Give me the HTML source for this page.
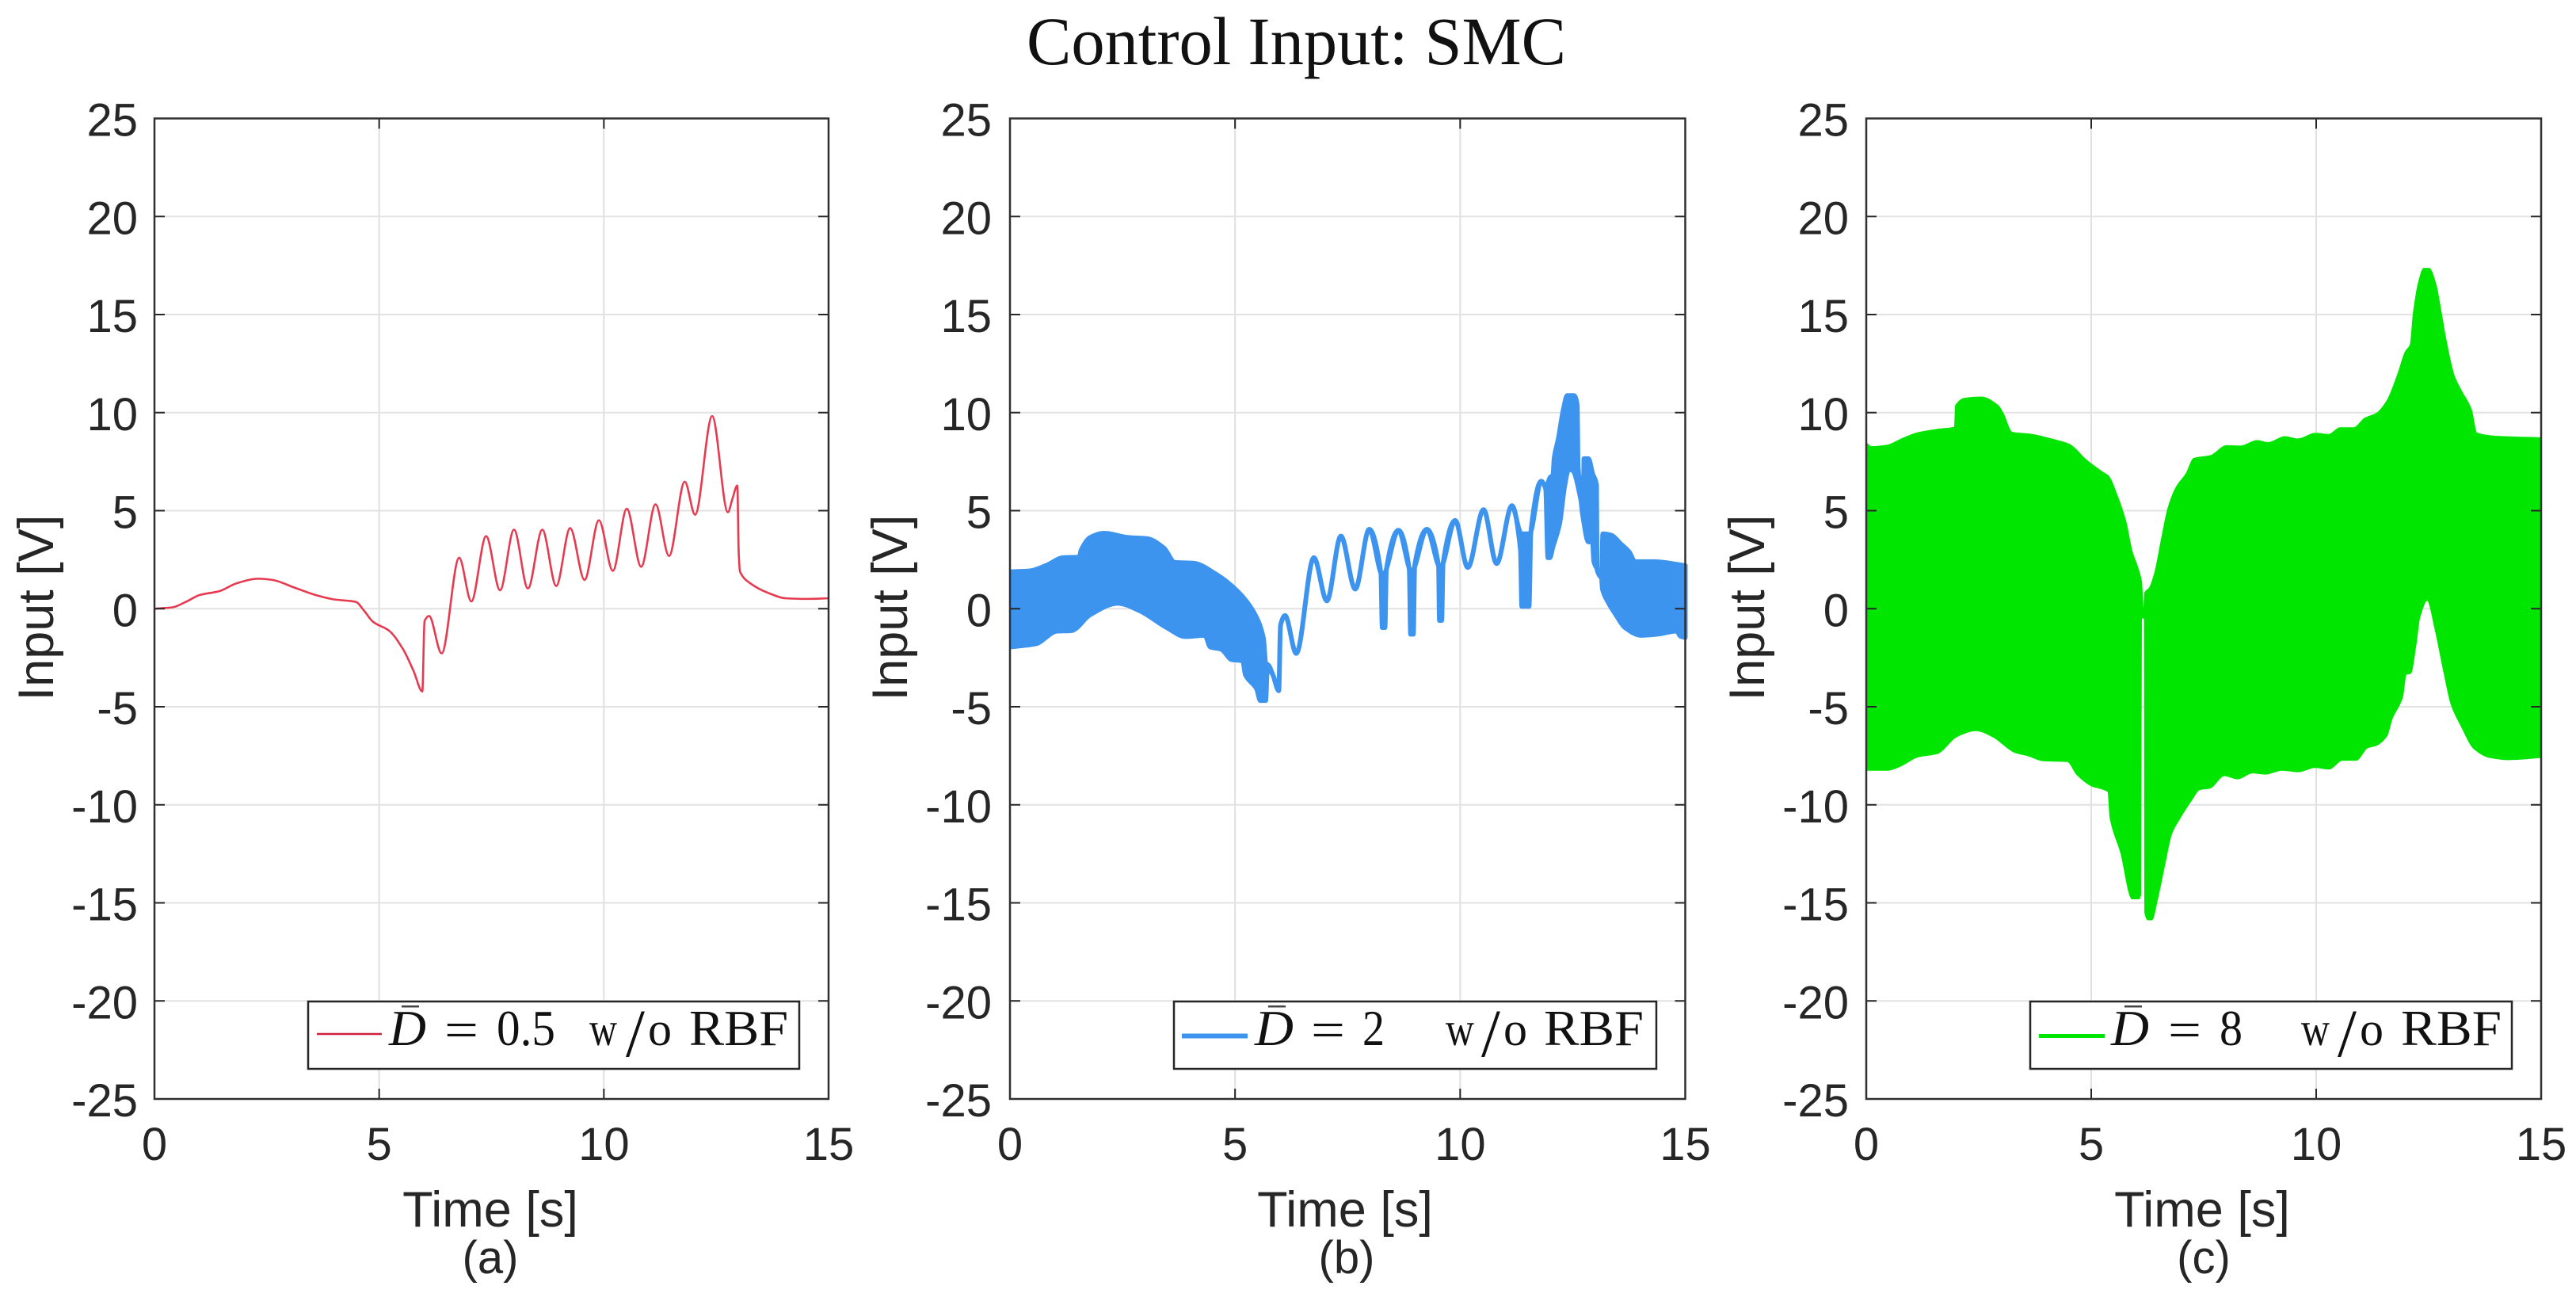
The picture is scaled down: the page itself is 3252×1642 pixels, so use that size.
<!DOCTYPE html>
<html>
<head>
<meta charset="utf-8">
<title>Control Input: SMC</title>
<style>
html,body{margin:0;padding:0;background:#fff;width:3252px;height:1642px;overflow:hidden}
svg{display:block}
.s{font-family:"Liberation Sans",sans-serif;fill:#262626}
.r{font-family:"Liberation Serif",serif;fill:#111}
</style>
</head>
<body>
<svg id="fig" xmlns="http://www.w3.org/2000/svg" width="3252" height="1642" viewBox="0 0 3252 1642">
<rect x="0" y="0" width="3252" height="1642" fill="#fff"/>
<text class="r" x="1296" y="81" font-size="86" textLength="681" lengthAdjust="spacingAndGlyphs">Control Input: SMC</text>
<g id="panel-a"></g>
<g id="panel-b"></g>
<g id="panel-c"></g>

<g class="s">
<text class="s" font-size="63" text-anchor="middle" transform="translate(67 767) rotate(-90)">Input [V]</text>
<text class="s" font-size="63" text-anchor="middle" transform="translate(1145 767) rotate(-90)">Input [V]</text>
<text class="s" font-size="63" text-anchor="middle" transform="translate(2227 767) rotate(-90)">Input [V]</text>
<text class="s" font-size="63" text-anchor="middle" x="619" y="1548">Time [s]</text>
<text class="s" font-size="63" text-anchor="middle" x="1698" y="1548">Time [s]</text>
<text class="s" font-size="63" text-anchor="middle" x="2780" y="1548">Time [s]</text>
<text class="s" font-size="58" text-anchor="middle" x="619" y="1607">(a)</text>
<text class="s" font-size="58" text-anchor="middle" x="1700" y="1607">(b)</text>
<text class="s" font-size="58" text-anchor="middle" x="2782" y="1607">(c)</text>
</g>

<g>
<rect x="389" y="1264" width="620" height="85" fill="#fff" stroke="#262626" stroke-width="2.5"/>
<line x1="400" x2="482" y1="1305" y2="1305" stroke="#cc1f3a" stroke-width="2.5"/>
<rect x="507" y="1269" width="22" height="2.5" fill="#444"/>
<text class="r" font-style="italic" font-size="64" x="491" y="1319" textLength="47" lengthAdjust="spacingAndGlyphs">D</text>
<text class="r" font-size="64" x="561" y="1321" textLength="43" lengthAdjust="spacingAndGlyphs">=</text>
<text class="r" font-size="64" x="627" y="1319" textLength="74" lengthAdjust="spacingAndGlyphs">0.5</text>
<text class="r" font-size="60" y="1319"><tspan x="744" textLength="35" lengthAdjust="spacingAndGlyphs">w</tspan><tspan x="790" font-size="86" dy="14">/</tspan><tspan x="818" dy="-14">o</tspan></text>
<text class="r" font-size="64" x="870" y="1319" textLength="125" lengthAdjust="spacingAndGlyphs">RBF</text>
</g>

<g>
<rect x="1482" y="1264" width="609" height="85" fill="#fff" stroke="#262626" stroke-width="2.5"/>
<line x1="1492" x2="1575" y1="1307.5" y2="1307.5" stroke="#3d94ef" stroke-width="6"/>
<rect x="1601" y="1269" width="22" height="2.5" fill="#444"/>
<text class="r" font-style="italic" font-size="64" x="1584" y="1319" textLength="49" lengthAdjust="spacingAndGlyphs">D</text>
<text class="r" font-size="64" x="1655" y="1321" textLength="43" lengthAdjust="spacingAndGlyphs">=</text>
<text class="r" font-size="64" x="1720" y="1319" textLength="28" lengthAdjust="spacingAndGlyphs">2</text>
<text class="r" font-size="60" y="1319"><tspan x="1825" textLength="36" lengthAdjust="spacingAndGlyphs">w</tspan><tspan x="1870" font-size="86" dy="14">/</tspan><tspan x="1898" dy="-14">o</tspan></text>
<text class="r" font-size="64" x="1949" y="1319" textLength="126" lengthAdjust="spacingAndGlyphs">RBF</text>
</g>

<g>
<rect x="2563" y="1264" width="608" height="85" fill="#fff" stroke="#262626" stroke-width="2.5"/>
<line x1="2574" x2="2657" y1="1307.5" y2="1307.5" stroke="#00e600" stroke-width="5"/>
<rect x="2682" y="1269" width="22" height="2.5" fill="#444"/>
<text class="r" font-style="italic" font-size="64" x="2665" y="1319" textLength="48" lengthAdjust="spacingAndGlyphs">D</text>
<text class="r" font-size="64" x="2737" y="1321" textLength="42" lengthAdjust="spacingAndGlyphs">=</text>
<text class="r" font-size="64" x="2802" y="1319" textLength="29" lengthAdjust="spacingAndGlyphs">8</text>
<text class="r" font-size="60" y="1319"><tspan x="2905" textLength="36" lengthAdjust="spacingAndGlyphs">w</tspan><tspan x="2951" font-size="86" dy="14">/</tspan><tspan x="2979" dy="-14">o</tspan></text>
<text class="r" font-size="64" x="3031" y="1319" textLength="127" lengthAdjust="spacingAndGlyphs">RBF</text>
</g>
</svg>

<script>
// ---- chart data ----
const xTickLabels = [0, 5, 10, 15];
const yTickLabels = [25, 20, 15, 10, 5, 0, -5, -10, -15, -20, -25];

// Panel (a): single trace
const aTime = [0,.4,.7,1.01,1.45,1.82,2.31,2.62,3.12,3.61,3.98,4.48,4.66,4.87,5.22,5.53,5.77,5.96,6.01,6.11,6.39,6.78,7.05,7.38,7.69,8.0,8.31,8.63,8.94,9.25,9.57,9.89,10.2,10.51,10.83,11.15,11.45,11.8,12.03,12.41,12.76,12.86,12.97,13.0,13.03,13.26,13.63,14.06,14.49,15];
const aInput = [0,.07,.35,.7,.9,1.29,1.53,1.47,1.07,.68,.48,.35,-.09,-.68,-1.12,-2.06,-3.2,-4.22,-.63,-.37,-2.28,2.6,.37,3.7,.94,4.03,1.03,4.03,1.16,4.11,1.47,4.51,1.93,5.1,2.14,5.32,2.69,6.48,4.79,9.82,4.92,5.6,6.28,2.87,1.88,1.29,.83,.53,.5,.53];

// Panel (b): envelope of the chattering signal
const bUpperTime = [0,.45,.81,1.18,1.54,1.58,1.78,2.08,2.63,3.05,3.42,3.66,4.08,4.57,5.05,5.42,5.63,5.68,5.84,5.97,6.01,6.11,6.36,6.75,7.04,7.35,7.67,7.98,8.28,8.63,8.92,9.26,9.56,9.89,10.17,10.52,10.81,11.15,11.36,11.54,11.8,11.91,12.0,12.06,12.09,12.18,12.29,12.38,12.53,12.6,12.62,12.68,12.74,12.75,12.85,12.94,13.03,13.04,13.14,13.17,13.35,13.58,13.76,13.88,14.29,15];
const bUpper = [1.88,1.93,2.21,2.6,2.63,2.98,3.63,3.85,3.63,3.57,3.09,2.36,2.32,1.77,.9,-.2,-1.5,-2.8,-3.37,-4.18,-.85,-.35,-2.28,2.6,.4,3.7,1.0,4.05,1.7,4.0,1.9,4.05,2.1,4.5,2.1,5.05,2.3,5.25,3.82,3.82,6.5,6.24,6.7,6.8,7.7,8.66,10.13,10.87,10.87,10.4,7.18,6.24,6.2,7.65,7.65,6.9,6.3,2.0,1.6,3.82,3.75,3.28,2.88,2.4,2.4,2.2];
const bLowerTime = [0,.57,1.05,1.36,1.78,2.39,2.87,3.48,3.9,4.33,4.45,4.69,4.93,5.17,5.23,5.48,5.56,5.68,5.72,5.84,5.97,6.01,6.11,6.36,6.75,7.04,7.35,7.67,7.98,8.24,8.27,8.33,8.36,8.63,8.87,8.9,8.96,8.99,9.26,9.52,9.54,9.59,9.62,9.89,10.17,10.52,10.81,11.15,11.34,11.37,11.53,11.57,11.8,11.9,11.95,11.99,12.06,12.21,12.32,12.41,12.5,12.68,12.72,12.85,12.94,12.97,13.14,13.16,13.29,13.47,13.66,14.02,14.38,14.81,14.89,15];
const bLower = [-1.95,-1.79,-1.14,-1.12,-.31,.28,-.09,-.96,-1.42,-1.36,-1.95,-2.06,-2.6,-2.65,-3.37,-4.09,-4.68,-4.68,-2.85,-3.37,-4.18,-.85,-.35,-2.28,2.6,.4,3.7,1.0,4.05,1.8,-.96,-.96,2.0,4.0,2.0,-1.3,-1.3,2.2,4.05,2.2,-.6,-.6,2.3,4.5,2.1,5.05,2.3,5.25,3.0,.12,.12,3.9,6.5,6.1,2.6,2.6,3.15,4.35,6.24,7.11,7.04,5.56,4.8,3.41,3.41,2.4,1.6,1.0,.32,-.35,-.96,-1.36,-1.3,-1.14,-1.4,-1.47];

// Panel (c): envelope of the chattering signal
const cUpperTime = [0,.11,.48,.78,1.15,1.58,1.96,1.985,2.19,2.56,2.93,3.05,3.24,3.66,4.15,4.52,4.89,5.26,5.38,5.59,5.77,5.91,6.03,6.12,6.16,6.19,6.29,6.41,6.56,6.70,6.88,7.11,7.28,7.65,8.01,8.32,8.69,8.93,9.3,9.6,9.98,10.28,10.53,10.83,11.08,11.34,11.57,11.81,11.98,12.09,12.16,12.28,12.39,12.51,12.66,12.78,12.89,13.07,13.22,13.45,13.57,13.98,15];
const cUpper = [8.47,8.27,8.35,8.66,8.98,9.15,9.26,10.37,10.74,10.8,10.37,9.94,9.0,8.9,8.64,8.38,7.59,6.96,6.78,5.7,4.46,2.92,2.14,1.37,-.16,.83,1.06,1.83,3.55,5.08,6.17,6.9,7.67,7.81,8.32,8.3,8.58,8.47,8.78,8.66,8.95,8.89,9.23,9.23,9.72,9.97,10.6,11.95,13.1,13.47,15.1,16.7,17.36,17.36,16.56,15.1,13.67,11.87,11.15,10.16,8.96,8.8,8.72];
const cLowerTime = [0,.48,.78,1.15,1.58,2.01,2.44,2.81,3.3,3.59,3.94,4.47,4.68,5.0,5.37,5.42,5.65,5.91,6.06,6.1,6.118,6.18,6.19,6.26,6.35,6.47,6.64,6.79,6.97,7.23,7.41,7.64,7.96,8.26,8.58,8.87,9.24,9.6,9.98,10.28,10.59,10.89,11.14,11.34,11.57,11.69,11.92,12.0,12.1,12.22,12.3,12.47,12.63,12.84,13.0,13.22,13.51,13.86,14.27,15];
const cLower = [-8.24,-8.24,-8.01,-7.56,-7.39,-6.53,-6.22,-6.53,-7.33,-7.5,-7.76,-7.8,-8.46,-9.03,-9.33,-10.7,-12.4,-14.8,-14.8,-14.6,-.48,-.48,-15.5,-15.87,-15.87,-14.86,-13,-11.47,-10.7,-9.77,-9.23,-9.15,-8.52,-8.68,-8.38,-8.44,-8.24,-8.32,-8.1,-8.18,-7.73,-7.73,-7.1,-6.97,-6.5,-5.61,-4.52,-3.35,-3.3,-1.82,-.48,.42,-.93,-3.27,-4.89,-5.98,-7.15,-7.59,-7.7,-7.59];

// ---- helpers ----
const NS = 'http://www.w3.org/2000/svg';
const xMin = 0, xMax = 15, yMin = -25, yMax = 25;
const plotTop = 149.5, plotBottom = 1387;

function mk(parent, tag, attrs) {
  const el = document.createElementNS(NS, tag);
  for (const k in attrs) el.setAttribute(k, attrs[k]);
  parent.appendChild(el);
  return el;
}
function monotone(xs, ys, move) {
  const n = xs.length, s = [], m = [];
  for (let i = 0; i < n - 1; i++) s.push((ys[i + 1] - ys[i]) / (xs[i + 1] - xs[i]));
  m[0] = s[0]; m[n - 1] = s[n - 2];
  for (let i = 1; i < n - 1; i++) {
    m[i] = s[i - 1] * s[i] <= 0 ? 0 : 2 * s[i - 1] * s[i] / (s[i - 1] + s[i]);
  }
  let d = (move ? 'M' : 'L') + xs[0].toFixed(2) + ' ' + ys[0].toFixed(2);
  for (let i = 0; i < n - 1; i++) {
    const h = (xs[i + 1] - xs[i]) / 3;
    d += 'C' + (xs[i] + h).toFixed(2) + ' ' + (ys[i] + m[i] * h).toFixed(2) + ' ' +
         (xs[i + 1] - h).toFixed(2) + ' ' + (ys[i + 1] - m[i + 1] * h).toFixed(2) + ' ' +
         xs[i + 1].toFixed(2) + ' ' + ys[i + 1].toFixed(2);
  }
  return d;
}
function drawAxes(groupId, suffix, left, right, labelRight) {
  const g = document.getElementById(groupId);
  const sx = t => left + (t - xMin) / (xMax - xMin) * (right - left);
  const sy = u => plotTop + (yMax - u) / (yMax - yMin) * (plotBottom - plotTop);
  const clipEl = mk(g, 'clipPath', { id: 'clip-' + suffix });
  mk(clipEl, 'rect', { x: left, y: plotTop, width: right - left + 3, height: plotBottom - plotTop });
  xTickLabels.forEach(v => {
    const grid = mk(g, 'line', { x1: sx(v), x2: sx(v), y1: plotTop, y2: plotBottom, stroke: '#e0e0e0', 'stroke-width': 2 });
    
    
  });
  yTickLabels.forEach(v => {
    const grid = mk(g, 'line', { x1: left, x2: right, y1: sy(v), y2: sy(v), stroke: '#e2e2e2', 'stroke-width': 2 });
    
    
  });
  return { g, sx, sy, left, right, labelRight, suffix };
}
function drawFrame(ax) {
  const { g, sx, sy, left, right, labelRight } = ax;
  xTickLabels.forEach(v => {
    const tickA = mk(g, 'line', { x1: sx(v), x2: sx(v), y1: plotBottom, y2: plotBottom - 13, stroke: '#262626', 'stroke-width': 2 });
    
    
    const tickB = mk(g, 'line', { x1: sx(v), x2: sx(v), y1: plotTop, y2: plotTop + 13, stroke: '#262626', 'stroke-width': 2 });
    
    
    const lab = mk(g, 'text', { x: sx(v), y: 1464, 'text-anchor': 'middle', 'font-size': 58, class: 's' });
    lab.textContent = v;
    
    
  });
  yTickLabels.forEach(v => {
    const tickA = mk(g, 'line', { x1: left, x2: left + 13, y1: sy(v), y2: sy(v), stroke: '#262626', 'stroke-width': 2 });
    
    
    const tickB = mk(g, 'line', { x1: right, x2: right - 13, y1: sy(v), y2: sy(v), stroke: '#262626', 'stroke-width': 2 });
    
    
    const lab = mk(g, 'text', { x: labelRight + 2, y: sy(v) + 22, 'text-anchor': 'end', 'font-size': 58, class: 's' });
    lab.textContent = v;
    
    
  });
  const frame = mk(g, 'rect', { x: left, y: plotTop, width: right - left, height: plotBottom - plotTop, fill: 'none', stroke: '#303030', 'stroke-width': 2.5 });
  
  
}
function drawLine(ax, ts, us, color, width) {
  const path = mk(ax.g, 'path', {
    d: monotone(ts.map(ax.sx), us.map(ax.sy), true), fill: 'none', stroke: color,
    'stroke-width': width, 'stroke-linejoin': 'round', 'clip-path': 'url(#clip-' + ax.suffix + ')'
  });
  
  
}
function drawBand(ax, upT, up, loT, lo, color, width) {
  const loXr = loT.map(ax.sx).reverse(), loYr = lo.map(ax.sy).reverse();
  const d = monotone(upT.map(ax.sx), up.map(ax.sy), true) + monotone(loXr, loYr, false) + 'Z';
  const path = mk(ax.g, 'path', {
    d: d, fill: color, stroke: color, 'stroke-width': width,
    'stroke-linejoin': 'round', 'clip-path': 'url(#clip-' + ax.suffix + ')'
  });
  
  
}

// ---- draw ----
const axA = drawAxes('panel-a', 'a', 195, 1046, 172);
drawLine(axA, aTime, aInput, '#e63a50', 2.6);
drawFrame(axA);

const axB = drawAxes('panel-b', 'b', 1275, 2127.5, 1250);
drawBand(axB, bUpperTime, bUpper, bLowerTime, bLower, '#3d94ef', 6);
drawFrame(axB);

const axC = drawAxes('panel-c', 'c', 2356, 3208, 2332);
drawBand(axC, cUpperTime, cUpper, cLowerTime, cLower, '#00e600', 1);
drawFrame(axC);
</script>
</body>
</html>
